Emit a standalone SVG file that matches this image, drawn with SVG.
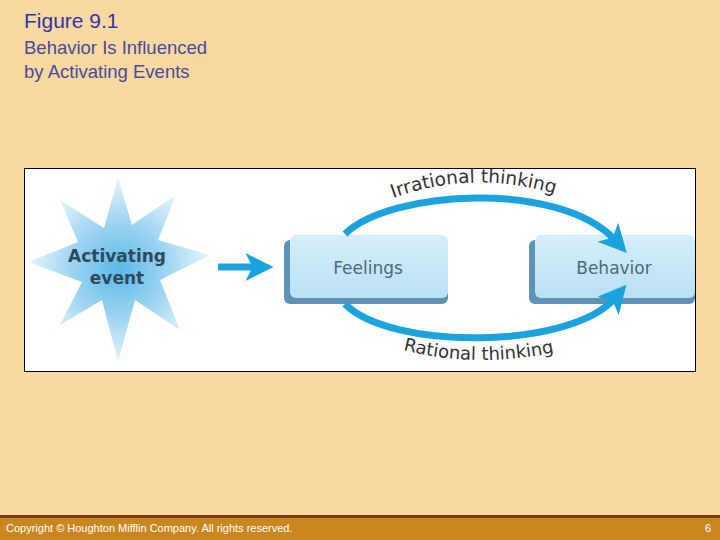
<svg xmlns="http://www.w3.org/2000/svg" width="720" height="540" viewBox="0 0 720 540">
<defs>
<radialGradient id="sg" cx="0.5" cy="0.5" r="0.5"><stop offset="0" stop-color="#5BB8E8"/><stop offset="0.5" stop-color="#9BD3F0"/><stop offset="1" stop-color="#E6F5FC"/></radialGradient>
<linearGradient id="bg" x1="0" y1="0" x2="0" y2="1"><stop offset="0" stop-color="#D6EEFA"/><stop offset="1" stop-color="#B9E0F4"/></linearGradient>
<marker id="ah" markerWidth="4" markerHeight="4" refX="1.5" refY="2" orient="auto"><path d="M0,0 L4,2 L0,4 L1,2 Z" fill="#1BA3E0"/></marker>
<path id="tp1" d="M393,198 Q476,168 562,196"/>
<path id="tp2" d="M403,350 Q480,370 565,350"/>
<style>
.t{font-family:"Liberation Sans",Arial,sans-serif}
.box{fill:url(#bg)}
.sh{fill:#5F93B5}
.lbl{font-family:"DejaVu Sans",sans-serif;font-size:17px;fill:#4A6A80}
.cl{font-family:"DejaVu Sans",sans-serif;fill:#333}
.arc{fill:none;stroke:#1BA3E0;stroke-width:7;marker-end:url(#ah)}
</style>
</defs>
<rect width="720" height="540" fill="#F9D8A2"/>
<text x="24" y="28" class="t" font-size="21" fill="#3333AA">Figure 9.1</text>
<text x="24" y="54" class="t" font-size="18.5" fill="#4A4A9A">Behavior Is Influenced</text>
<text x="24" y="78" class="t" font-size="18.5" fill="#4A4A9A">by Activating Events</text>
<rect x="24.5" y="168.5" width="671" height="203" fill="#fff" stroke="#000"/>
<g id="star">
<polygon fill="url(#sg)" points="118,178 132,225 176,195 158,240 210,255 160,280 180,330 135,300 118,362 102,300 60,325 82,282 28,262 78,242 60,200 104,228"/>
<text x="117" y="262" text-anchor="middle" font-family="DejaVu Sans,sans-serif" font-weight="bold" font-size="17" fill="#2D4A5E">Activating</text>
<text x="117" y="284" text-anchor="middle" font-family="DejaVu Sans,sans-serif" font-weight="bold" font-size="17" fill="#2D4A5E">event</text>
</g>
<g id="feelings">
<rect class="sh" x="284" y="240" width="164" height="64" rx="6"/>
<rect class="box" x="290" y="235" width="158" height="63" rx="6"/>
<text x="368" y="274" text-anchor="middle" class="lbl">Feelings</text>
</g>
<g id="behavior">
<rect class="sh" x="529" y="240" width="166" height="64" rx="6"/>
<rect class="box" x="535" y="235" width="160" height="63" rx="6"/>
<text x="614" y="274" text-anchor="middle" class="lbl">Behavior</text>
</g>
<g id="connectors">
<path d="M218,267 L256,267" stroke="#1BA3E0" stroke-width="7" fill="none" marker-end="url(#ah)"/>
<path class="arc" d="M345,234 C390,190 560,180 615,240"/>
<path class="arc" d="M345,304 C390,350 570,350 615,298"/>
</g>
<text class="cl" font-size="18.5"><textPath href="#tp1" startOffset="0">Irrational thinking</textPath></text>
<text class="cl" font-size="18"><textPath href="#tp2" startOffset="0">Rational thinking</textPath></text>
<rect x="0" y="515" width="720" height="3" fill="#7A3A10"/>
<rect x="0" y="518" width="720" height="22" fill="#C9851E"/>
<text x="6" y="532" class="t" font-size="11" fill="#fff">Copyright © Houghton Mifflin Company. All rights reserved.</text>
<text x="711" y="532" class="t" font-size="11" fill="#fff" text-anchor="end">6</text>
</svg>
